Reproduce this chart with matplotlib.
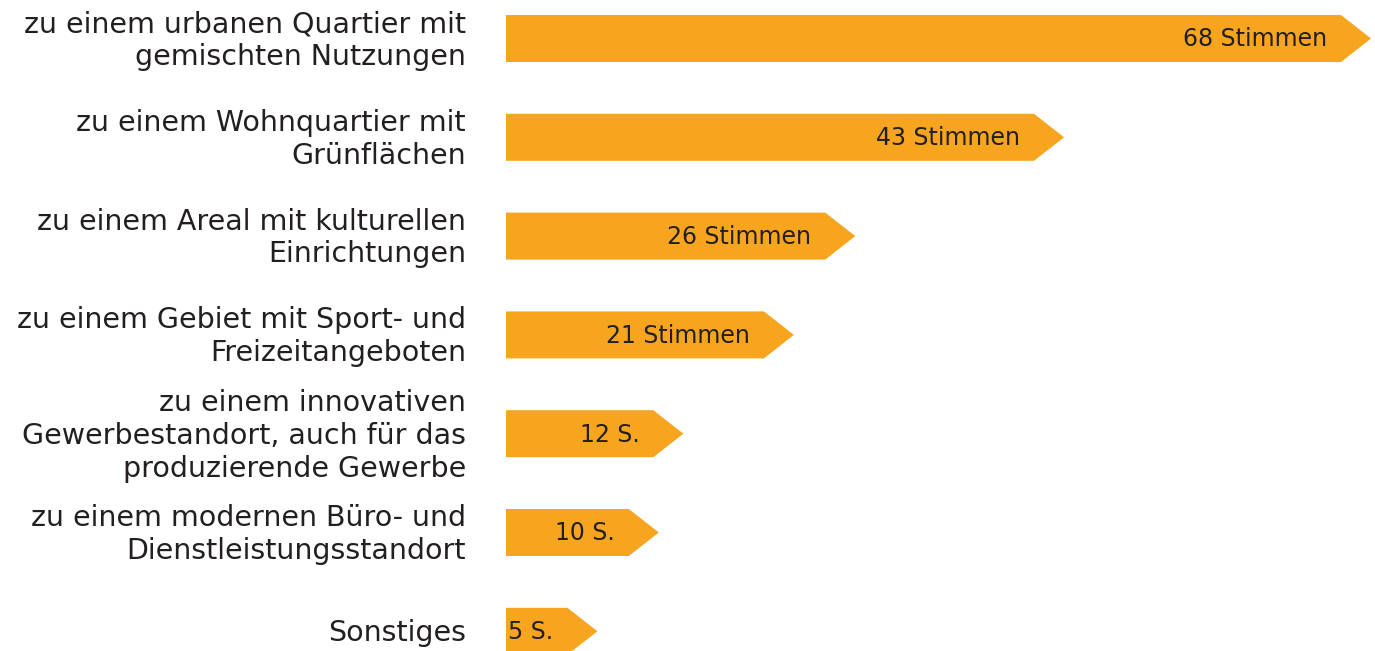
import matplotlib

matplotlib.use("Agg")
import matplotlib.pyplot as plt  # noqa: E402
from matplotlib.patches import Polygon  # noqa: E402
from matplotlib.transforms import offset_copy  # noqa: E402

CATEGORIES = [
    "zu einem urbanen Quartier mit\ngemischten Nutzungen",
    "zu einem Wohnquartier mit\nGrünflächen",
    "zu einem Areal mit kulturellen\nEinrichtungen",
    "zu einem Gebiet mit Sport- und\nFreizeitangeboten",
    "zu einem innovativen\nGewerbestandort, auch für das\nproduzierende Gewerbe",
    "zu einem modernen Büro- und\nDienstleistungsstandort",
    "Sonstiges",
]
VOTES = [68, 43, 26, 21, 12, 10, 5]
VALUE_LABELS = ["68 Stimmen", "43 Stimmen", "26 Stimmen", "21 Stimmen",
                "12 S.", "10 S.", "5 S."]

ORANGE = "#F7A51E"
TEXT = "#231f20"
FONT = "DejaVu Sans"
W, H, DPI = 1375, 651, 100
PX_PER_VOTE = 12.28
TIP = 30 / PX_PER_VOTE       # arrow tip length in vote units
ROW = 98.8                    # row pitch in pixels
BAR_H = 47 / ROW

fig = plt.figure(figsize=(W / DPI, H / DPI), dpi=DPI)
x0 = 506 / W
ax = fig.add_axes([x0, 0, 1 - x0, 1])
ax.set_xlim(0, (W - 506) / PX_PER_VOTE)
ax.set_ylim((H - 38.5) / ROW, -38.5 / ROW)
ax.axis("off")

label_tr = offset_copy(ax.transData, fig=fig, x=-14, y=0, units="dots")
for i, (v, lab) in enumerate(zip(VOTES, VALUE_LABELS)):
    top, bot = i - BAR_H / 2, i + BAR_H / 2
    ax.add_patch(Polygon(
        [(0, top), (v, top), (v + TIP, i), (v, bot), (0, bot)],
        closed=True, facecolor=ORANGE, edgecolor="none", clip_on=False))
    ax.text(v, i + 0.01, lab, transform=label_tr, ha="right", va="center",
            fontsize=17, color=TEXT, family=FONT)

cat_tr = offset_copy(ax.transData, fig=fig, x=-40, y=0, units="dots")
for i, cat in enumerate(CATEGORIES):
    ax.text(0, i + 0.02, cat, transform=cat_tr, ha="right", va="center",
            multialignment="right", fontsize=20.5, color=TEXT, family=FONT,
            linespacing=1.22)

fig.savefig("out.png", dpi=DPI)
